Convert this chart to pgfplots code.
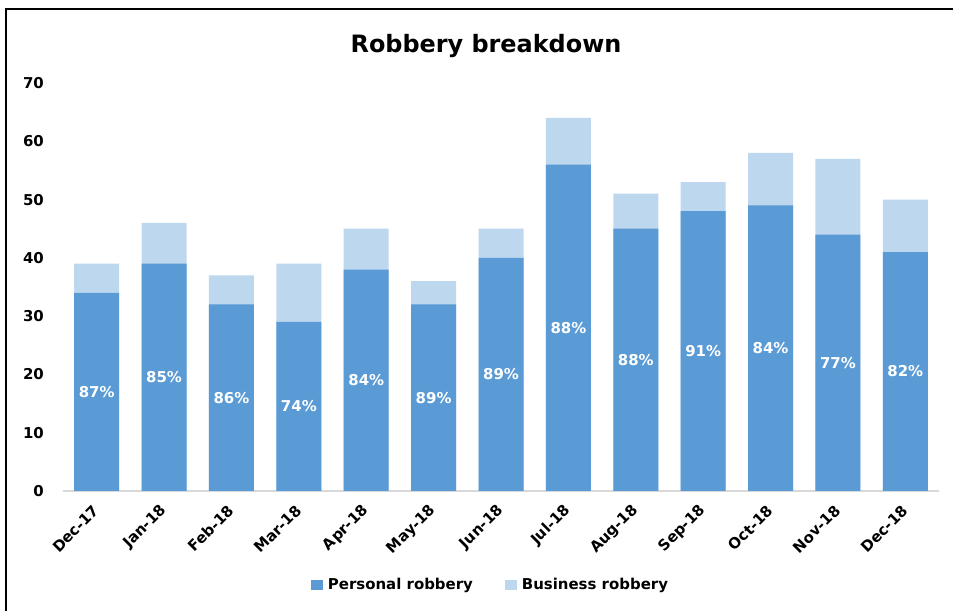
\documentclass[border=0pt]{standalone}
\usepackage{pgfplots}
\pgfplotsset{compat=1.18}
\usepackage{fontspec}
\setmainfont{DejaVu Sans}
\definecolor{pers}{HTML}{5B9BD5}
\definecolor{bus}{HTML}{BDD7EE}
\definecolor{axisgray}{HTML}{D9D9D9}
\begin{document}
\begin{tikzpicture}
\path[use as bounding box] (0,0) rectangle (953bp,611bp);
\draw[line width=2.5bp, black] (6bp,0) -- (6bp,602bp) -- (953bp,602bp);
\node[font=\fontsize{24}{28}\selectfont\bfseries] at (486bp,565bp) {Robbery breakdown};
\begin{axis}[
  at={(63bp,120bp)}, anchor=south west,
  scale only axis, width=876bp, height=408bp,
  xmin=-0.5, xmax=12.5, ymin=0, ymax=70,
  ytick={0,10,...,70},
  xtick={0,...,12},
  xticklabels={Dec-17,Jan-18,Feb-18,Mar-18,Apr-18,May-18,Jun-18,Jul-18,Aug-18,Sep-18,Oct-18,Nov-18,Dec-18},
  axis x line*=bottom, axis y line*=left,
  y axis line style={draw=none},
  x axis line style={draw=axisgray, line width=1.5bp},
  major tick length=0pt,
  /pgf/number format/assume math mode=true,
  ticklabel style={font=\fontsize{15}{18}\selectfont\bfseries},
  yticklabel style={anchor=east, inner sep=0pt, xshift=-19bp},
  xticklabel style={xshift=0bp, yshift=-17bp, rotate=45, anchor=east, inner sep=0pt},
  legend style={at={(0.488,-0.23)}, anchor=center, draw=none, legend columns=2,
    font=\fontsize{15}{18}\selectfont\bfseries,
    /tikz/every even column/.append style={column sep=30bp}},
  legend image code/.code={\fill[#1] (0bp,-5bp) rectangle (12bp,5bp); \path (0bp,0bp) -- (15bp,0bp);},
  clip=false,
]
\addplot[ybar, bar width=45bp, bar shift=0pt, fill=bus, draw=none, forget plot] coordinates {
(0,39) (1,46) (2,37) (3,39) (4,45) (5,36) (6,45) (7,64) (8,51) (9,53) (10,58) (11,57) (12,50)};
\addplot[ybar, bar width=45bp, bar shift=0pt, fill=pers, draw=none] coordinates {
(0,34) (1,39) (2,32) (3,29) (4,38) (5,32) (6,40) (7,56) (8,45) (9,48) (10,49) (11,44) (12,41)};
\addlegendentry{Personal robbery}
\addlegendimage{fill=bus, draw=none}
\addlegendentry{Business robbery}
\addplot[draw=none, mark=none, forget plot, nodes near coords, point meta=explicit symbolic,
  every node near coord/.append style={anchor=center, text=white, font=\fontsize{15}{18}\selectfont\bfseries}] coordinates {
(0,17) [87\%] (1,19.5) [85\%] (2,16) [86\%] (3,14.5) [74\%] (4,19) [84\%] (5,16) [89\%] (6,20) [89\%]
(7,28) [88\%] (8,22.5) [88\%] (9,24) [91\%] (10,24.5) [84\%] (11,22) [77\%] (12,20.5) [82\%]};
\end{axis}
\end{tikzpicture}
\end{document}
